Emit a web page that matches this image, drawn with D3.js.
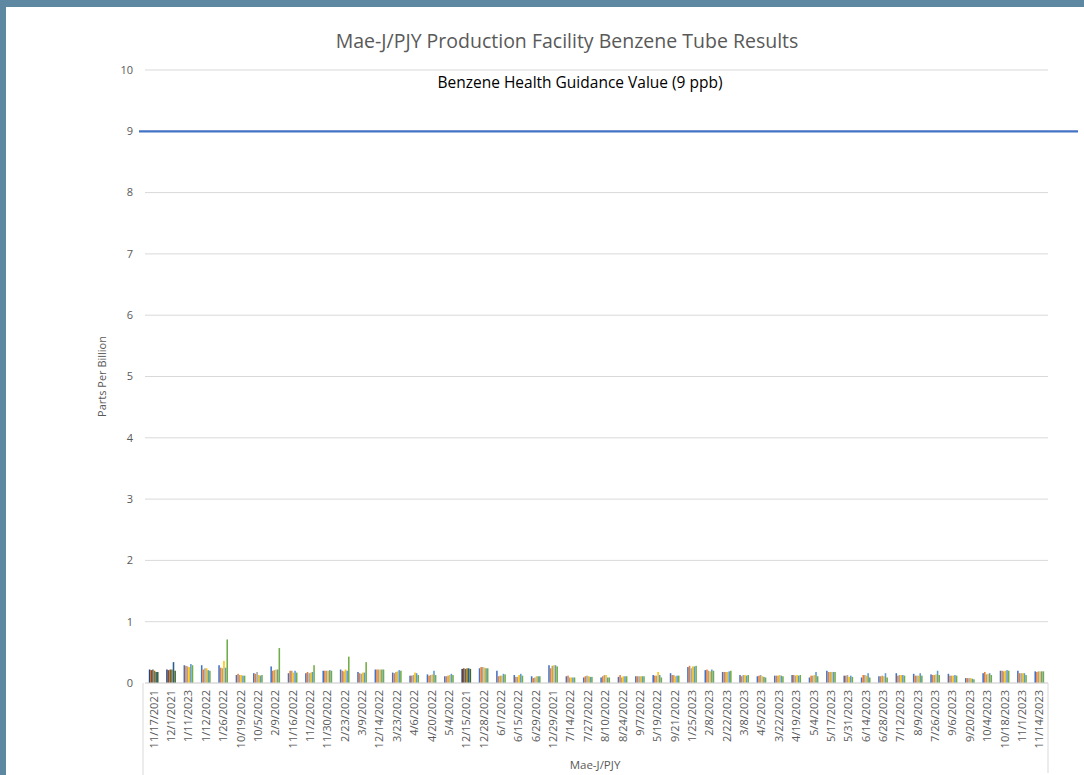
<!DOCTYPE html>
<html>
<head>
<meta charset="utf-8">
<script src="https://cdn.jsdelivr.net/npm/d3@7"></script>
<style>
  body { margin: 0; background: #5e87a1; }
  svg { display: block; }
</style>
</head>
<body>
<svg id="chart" width="1084" height="775"></svg>
<script>
// sample dates, in the order the sheet has them
const dates = ["11/17/2021","12/1/2021","1/11/2023","1/12/2022","1/26/2022","10/19/2022","10/5/2022","2/9/2022",
  "11/16/2022","11/2/2022","11/30/2022","2/23/2022","3/9/2022","12/14/2022","3/23/2022","4/6/2022","4/20/2022",
  "5/4/2022","12/15/2021","12/28/2022","6/1/2022","6/15/2022","6/29/2022","12/29/2021","7/14/2022","7/27/2022",
  "8/10/2022","8/24/2022","9/7/2022","5/19/2022","9/21/2022","1/25/2023","2/8/2023","2/22/2023","3/8/2023",
  "4/5/2023","3/22/2023","4/19/2023","5/4/2023","5/17/2023","5/31/2023","6/14/2023","6/28/2023","7/12/2023",
  "8/9/2023","7/26/2023","9/6/2023","9/20/2023","10/4/2023","10/18/2023","11/1/2023","11/14/2023"];

// these dates were plotted with the darker series colours
const darkDates = ["11/17/2021","12/1/2021","12/15/2021"];

// six tubes per date (ppb)
const tube1 = [0.22,0.22,0.29,0.29,0.29,0.13,0.16,0.27,0.16,0.16,0.20,0.22,0.18,0.22,0.17,0.12,0.14,0.11,0.23,0.24,0.20,0.13,0.11,0.29,0.11,0.09,0.09,0.10,0.11,0.13,0.16,0.26,0.21,0.18,0.13,0.11,0.12,0.13,0.09,0.20,0.12,0.09,0.11,0.16,0.15,0.14,0.15,0.08,0.16,0.20,0.20,0.19];
const tube2 = [0.21,0.21,0.28,0.22,0.25,0.15,0.15,0.20,0.20,0.18,0.20,0.20,0.16,0.22,0.16,0.12,0.12,0.11,0.24,0.26,0.11,0.10,0.08,0.24,0.12,0.11,0.11,0.13,0.11,0.12,0.13,0.28,0.22,0.18,0.11,0.12,0.12,0.13,0.12,0.18,0.12,0.13,0.11,0.12,0.12,0.13,0.12,0.08,0.18,0.20,0.16,0.18];
const tube3 = [0.22,0.22,0.27,0.24,0.24,0.13,0.18,0.21,0.20,0.16,0.20,0.19,0.15,0.22,0.18,0.13,0.13,0.12,0.23,0.26,0.12,0.10,0.09,0.28,0.09,0.12,0.13,0.09,0.11,0.12,0.13,0.24,0.20,0.18,0.13,0.13,0.12,0.12,0.12,0.18,0.13,0.13,0.12,0.13,0.12,0.13,0.12,0.08,0.14,0.19,0.16,0.19];
const tube4 = [0.20,0.22,0.26,0.24,0.36,0.13,0.13,0.22,0.17,0.17,0.20,0.22,0.17,0.22,0.19,0.17,0.14,0.13,0.24,0.25,0.12,0.13,0.11,0.29,0.09,0.11,0.13,0.11,0.11,0.18,0.11,0.27,0.19,0.18,0.13,0.11,0.13,0.13,0.13,0.18,0.10,0.12,0.11,0.13,0.12,0.14,0.12,0.08,0.15,0.20,0.16,0.19];
const tube5 = [0.18,0.34,0.31,0.21,0.25,0.12,0.12,0.22,0.20,0.18,0.21,0.20,0.17,0.22,0.21,0.16,0.20,0.15,0.24,0.24,0.15,0.15,0.11,0.29,0.09,0.10,0.09,0.11,0.11,0.13,0.12,0.27,0.22,0.19,0.12,0.10,0.12,0.12,0.18,0.18,0.12,0.16,0.16,0.13,0.16,0.20,0.13,0.07,0.16,0.21,0.16,0.19];
const tube6 = [0.18,0.20,0.29,0.20,0.71,0.12,0.13,0.57,0.17,0.29,0.20,0.43,0.34,0.22,0.20,0.13,0.13,0.13,0.23,0.24,0.14,0.12,0.11,0.27,0.09,0.10,0.09,0.11,0.11,0.09,0.12,0.28,0.20,0.20,0.13,0.09,0.11,0.13,0.11,0.18,0.10,0.09,0.09,0.12,0.12,0.13,0.12,0.06,0.13,0.20,0.13,0.19];

const guidance = 9;
const yTicks = [0,1,2,3,4,5,6,7,8,9,10];

const tubes = [tube1, tube2, tube3, tube4, tube5, tube6];
const colors = ["#4472c4","#ed7d31","#a5a5a5","#ffc000","#5b9bd5","#70ad47"];
const darkColors = ["#264478","#9e480e","#636363","#997300","#255e91","#43682b"];
const font = "'Open Sans', 'Noto Sans', sans-serif";

const svg = d3.select("#chart");

// white sheet, with the blue frame showing on top and left
svg.append("rect").attr("x", 6).attr("y", 7).attr("width", 1078).attr("height", 768).attr("fill", "#fff");

const plotLeft = 145, plotRight = 1048, plotTop = 70, plotBottom = 683;

const x = d3.scaleBand().domain(dates).range([plotLeft, plotRight]);
const xs = d3.scaleBand().domain(d3.range(tubes.length))
  .range([x.bandwidth() * 0.22, x.bandwidth() * 0.78]).paddingInner(0.05);
const y = d3.scaleLinear().domain([0, 10]).range([plotBottom, plotTop]);

// gridlines
svg.append("g").selectAll("line").data(yTicks).join("line")
  .attr("x1", plotLeft).attr("x2", plotRight)
  .attr("y1", d => y(d)).attr("y2", d => y(d))
  .attr("stroke", "#d9d9d9").attr("stroke-width", 1);

// y labels
svg.append("g").selectAll("text").data(yTicks).join("text")
  .attr("x", 133).attr("y", d => y(d)).attr("dy", "0.35em")
  .attr("text-anchor", "end")
  .attr("font-family", font)
  .attr("font-size", 11).attr("fill", "#595959")
  .text(d => d);

// bars
const groups = svg.append("g").selectAll("g").data(dates).join("g")
  .attr("transform", d => `translate(${x(d)},0)`);

groups.selectAll("rect")
  .data((d, i) => tubes.map((t, k) => ({ k, v: t[i], dark: darkDates.includes(d) })))
  .join("rect")
  .attr("x", d => xs(d.k))
  .attr("width", xs.bandwidth())
  .attr("y", d => y(d.v))
  .attr("height", d => y(0) - y(d.v))
  .attr("fill", d => d.dark ? darkColors[d.k] : colors[d.k]);

// category axis: baseline, labels and the box below
svg.append("line").attr("x1", plotLeft).attr("x2", plotRight).attr("y1", plotBottom).attr("y2", plotBottom)
  .attr("stroke", "#d9d9d9");
svg.append("line").attr("x1", plotLeft - 2).attr("x2", plotLeft - 2).attr("y1", plotBottom).attr("y2", 775)
  .attr("stroke", "#d9d9d9");
svg.append("line").attr("x1", plotRight).attr("x2", plotRight).attr("y1", plotBottom).attr("y2", 773)
  .attr("stroke", "#d9d9d9");

svg.append("g").selectAll("text").data(dates).join("text")
  .attr("transform", d => `translate(${x(d) + x.bandwidth() / 2 + 4},${plotBottom + 7}) rotate(-90)`)
  .attr("text-anchor", "end")
  .attr("font-family", font)
  .attr("font-size", 11).attr("fill", "#595959")
  .text(d => d);

// guidance line, drawn a little past the plot like the sheet shape
svg.append("line")
  .attr("x1", plotLeft - 6).attr("x2", plotRight + 30)
  .attr("y1", y(guidance)).attr("y2", y(guidance))
  .attr("stroke", "#4472c4").attr("stroke-width", 2.2);

svg.append("text")
  .attr("x", 580).attr("y", y(guidance + 0.8)).attr("dy", "0.35em")
  .attr("text-anchor", "middle")
  .attr("font-family", font)
  .attr("font-size", 15.5).attr("fill", "#000")
  .text("Benzene Health Guidance Value (9 ppb)");

// titles
svg.append("text")
  .attr("x", 567).attr("y", 48)
  .attr("text-anchor", "middle")
  .attr("font-family", font)
  .attr("font-size", 19.5).attr("fill", "#595959")
  .text("Mae-J/PJY Production Facility Benzene Tube Results");

svg.append("text")
  .attr("transform", `translate(106,${(plotTop + plotBottom) / 2}) rotate(-90)`)
  .attr("text-anchor", "middle")
  .attr("font-family", font)
  .attr("font-size", 11).attr("fill", "#595959")
  .text("Parts Per Billion");

svg.append("text")
  .attr("x", 595).attr("y", 769)
  .attr("text-anchor", "middle")
  .attr("font-family", font)
  .attr("font-size", 11.5).attr("fill", "#595959")
  .text("Mae-J/PJY");
</script>
</body>
</html>
